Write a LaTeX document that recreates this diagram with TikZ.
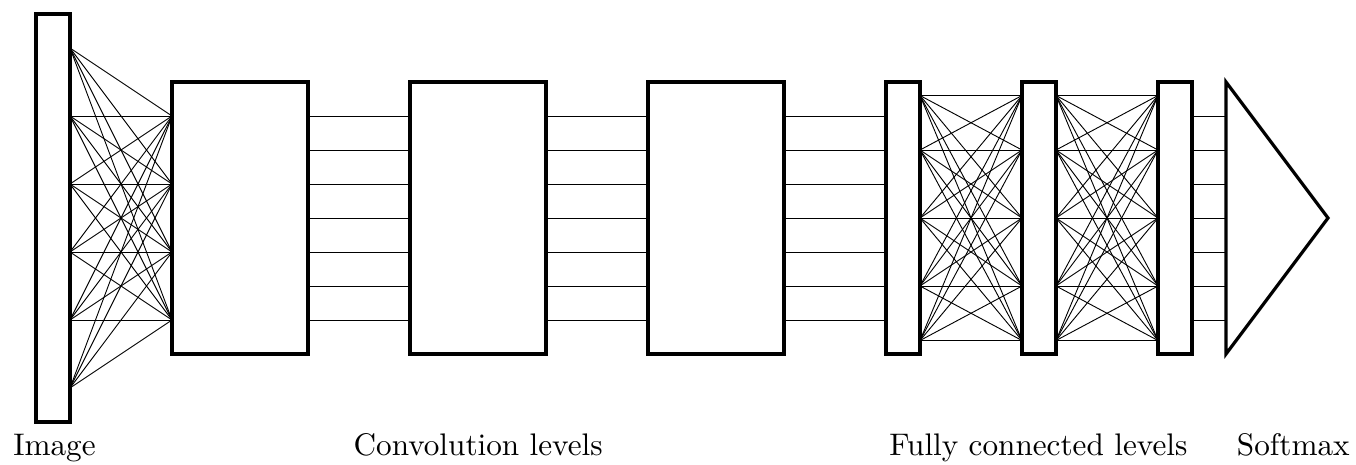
\documentclass[tikz,border=0pt]{standalone}
\usetikzlibrary{calc}
\begin{document}
\begin{tikzpicture}[x=0.3268pt,y=-0.3268pt,
  box/.style={draw,line width=1.05pt,inner sep=0pt,outer sep=0pt,fill=white},
  narrow/.style={box,minimum width=11.11pt,minimum height=88.89pt},
  wide/.style={box,minimum width=44.44pt,minimum height=88.89pt},
  link/.style={line width=0.3pt},
  lbl/.style={anchor=base west,inner sep=0pt,font=\fontsize{10.2}{12}\selectfont}]
\useasboundingbox (0,0) rectangle (1356,464);
% boxes
\node[box,minimum width=11.11pt,minimum height=133.33pt] (img) at (53,218) {};
\node[wide] (c1) at (240,218) {};
\node[wide] (c2) at (478,218) {};
\node[wide] (c3) at (716,218) {};
\node[narrow] (f1) at (903,218) {};
\node[narrow] (f2) at (1039,218) {};
\node[narrow] (f3) at (1175,218) {};
\coordinate (s1) at (1226,82);
\coordinate (s2) at (1328,218);
\coordinate (s3) at (1226,354);
\coordinate (sw) at (1226,218);
% image -> first convolution level (all to all)
\foreach \a in {-170,-102,-34,34,102,170}
  \foreach \b in {-102,-34,34,102}
    \draw[link] ($(img.east)+(0,\a)$) -- ($(c1.west)+(0,\b)$);
% parallel links
\foreach \p/\q in {c1/c2,c2/c3,c3/f1}
  \foreach \k in {-102,-68,-34,0,34,68,102}
    \draw[link] ($(\p.east)+(0,\k)$) -- ($(\q.west)+(0,\k)$);
\foreach \k in {-102,-68,-34,0,34,68,102}
  \draw[link] ($(f3.east)+(0,\k)$) -- ($(sw)+(0,\k)$);
% fully connected
\foreach \p/\q in {f1/f2,f2/f3}
  \foreach \a in {-122.5,-68,0,68,122.5}
    \foreach \b in {-122.5,-68,0,68,122.5}
      \draw[link] ($(\p.east)+(0,\a)$) -- ($(\q.west)+(0,\b)$);
% softmax
\draw[line width=1.05pt,line join=miter] (s1) -- (s2) -- (s3) -- cycle;
% labels
\node[lbl] (limg) at (12.7,455) {Image};
\node[lbl] (lconv) at (353,455) {Convolution levels};
\node[lbl] (lfc) at (888.7,455) {Fully connected levels};
\node[lbl] (lsm) at (1236.3,455) {Softmax};
\end{tikzpicture}
\end{document}
